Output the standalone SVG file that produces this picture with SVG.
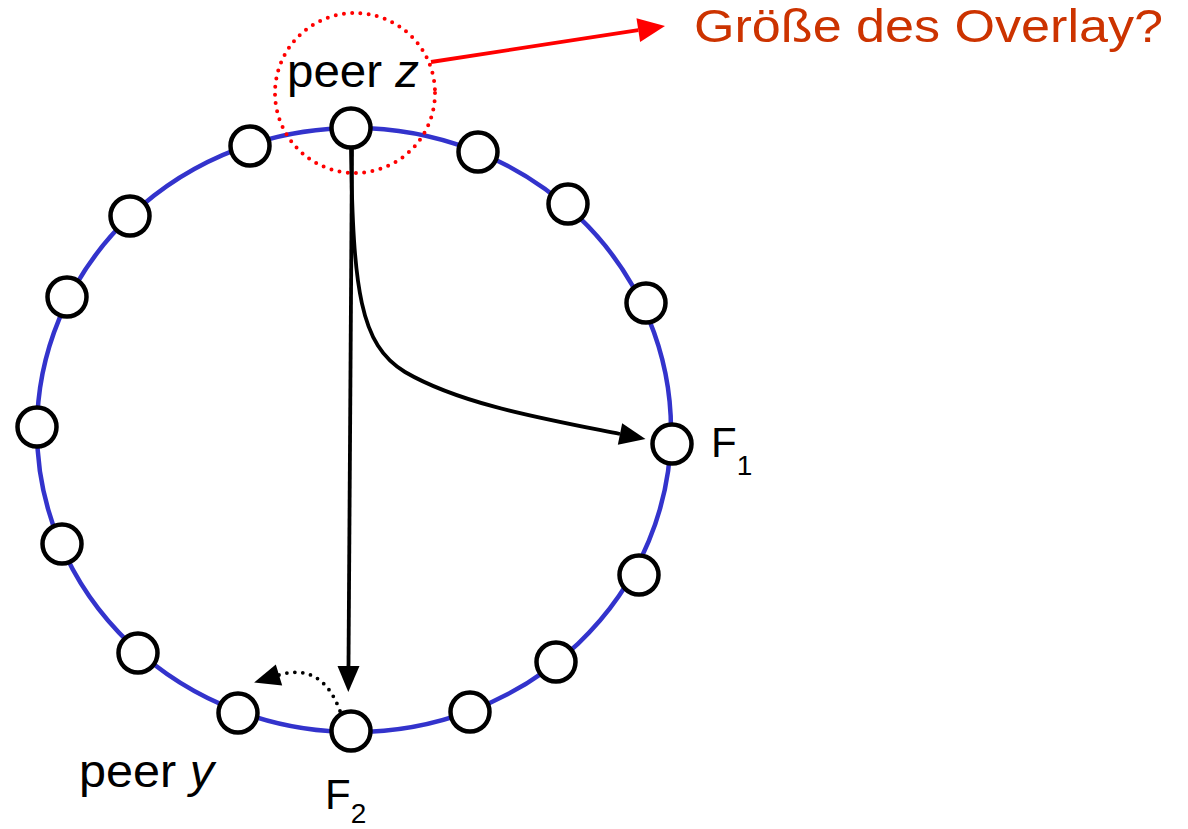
<svg xmlns="http://www.w3.org/2000/svg" width="1188" height="829" viewBox="0 0 1188 829">
<style>
.ring{fill:none;stroke:#3333cc;stroke-width:4.5}
.node{fill:#ffffff;stroke:#000000;stroke-width:4.5}
.lbl{font-family:"Liberation Sans",Arial,sans-serif;fill:#000000}
.conn{fill:none;stroke:#000000;stroke-width:3.8}
.dots{fill:none;stroke:#000000;stroke-width:3.8;stroke-dasharray:0 8;stroke-linecap:round}
.reddots{fill:none;stroke:#ff0000;stroke-width:4;stroke-dasharray:0 8.3;stroke-linecap:round}
.redline{fill:none;stroke:#ff0000;stroke-width:3.8}
</style>
<defs>
<marker id="ah" markerUnits="userSpaceOnUse" markerWidth="27" markerHeight="24" refX="0" refY="11" orient="auto" overflow="visible">
<path d="M0,0 L26,11 L0,22 z" fill="#000000"/>
</marker>
<marker id="ahr" markerUnits="userSpaceOnUse" markerWidth="28" markerHeight="26" refX="0" refY="12" orient="auto" overflow="visible">
<path d="M0,0 L27,12 L0,24 z" fill="#ff0000"/>
</marker>
</defs>
<rect width="1188" height="829" fill="#ffffff"/>
<g id="ring">
<ellipse class="ring" cx="354" cy="430" rx="317" ry="302"/>
</g>
<g id="highlight">
<circle class="reddots" cx="355" cy="93" r="80"/>
</g>
<g id="connectors">
<line class="conn" x1="352" y1="148" x2="348.5" y2="666" marker-end="url(#ah)"/>
<path class="conn" d="M351,148 C353,290 360,345 405,372 C460,404 540,418 620,434" marker-end="url(#ah)"/>
<path class="dots" d="M340,711 Q322,662 279,675" marker-end="url(#ah)"/>
<line class="redline" x1="431" y1="62" x2="638.3" y2="30.1" marker-end="url(#ahr)"/>
</g>
<g id="nodes">
<g id="n-peer-z"><circle class="node" cx="351" cy="128" r="19.5"/></g>
<g id="n2"><circle class="node" cx="478" cy="152" r="19.5"/></g>
<g id="n3"><circle class="node" cx="568" cy="204" r="19.5"/></g>
<g id="n4"><circle class="node" cx="646" cy="303" r="19.5"/></g>
<g id="n-F1"><circle class="node" cx="672" cy="444" r="19.5"/></g>
<g id="n6"><circle class="node" cx="639" cy="575" r="19.5"/></g>
<g id="n7"><circle class="node" cx="556" cy="662" r="19.5"/></g>
<g id="n8"><circle class="node" cx="470" cy="712" r="19.5"/></g>
<g id="n-F2"><circle class="node" cx="351" cy="731" r="19.5"/></g>
<g id="n-peer-y"><circle class="node" cx="238" cy="713" r="19.5"/></g>
<g id="n11"><circle class="node" cx="138" cy="653" r="19.5"/></g>
<g id="n12"><circle class="node" cx="62" cy="544" r="19.5"/></g>
<g id="n13"><circle class="node" cx="37" cy="427" r="19.5"/></g>
<g id="n14"><circle class="node" cx="67" cy="297" r="19.5"/></g>
<g id="n15"><circle class="node" cx="130" cy="216" r="19.5"/></g>
<g id="n16"><circle class="node" cx="250" cy="146" r="19.5"/></g>
</g>
<g id="labels">
<text class="lbl" x="287" y="87" font-size="46" textLength="132" lengthAdjust="spacingAndGlyphs">peer <tspan font-style="italic">z</tspan></text>
<text class="lbl" x="79" y="787" font-size="46" textLength="135" lengthAdjust="spacingAndGlyphs">peer <tspan font-style="italic">y</tspan></text>
<text class="lbl" x="711" y="457" font-size="42">F<tspan font-size="28" dy="18">1</tspan></text>
<text class="lbl" x="325" y="809" font-size="42">F<tspan font-size="28" dy="14">2</tspan></text>
<text x="694" y="42" font-family="'Liberation Sans',Arial,sans-serif" font-size="46" fill="#cc3300" textLength="469" lengthAdjust="spacingAndGlyphs">Größe des Overlay?</text>
</g>
</svg>
